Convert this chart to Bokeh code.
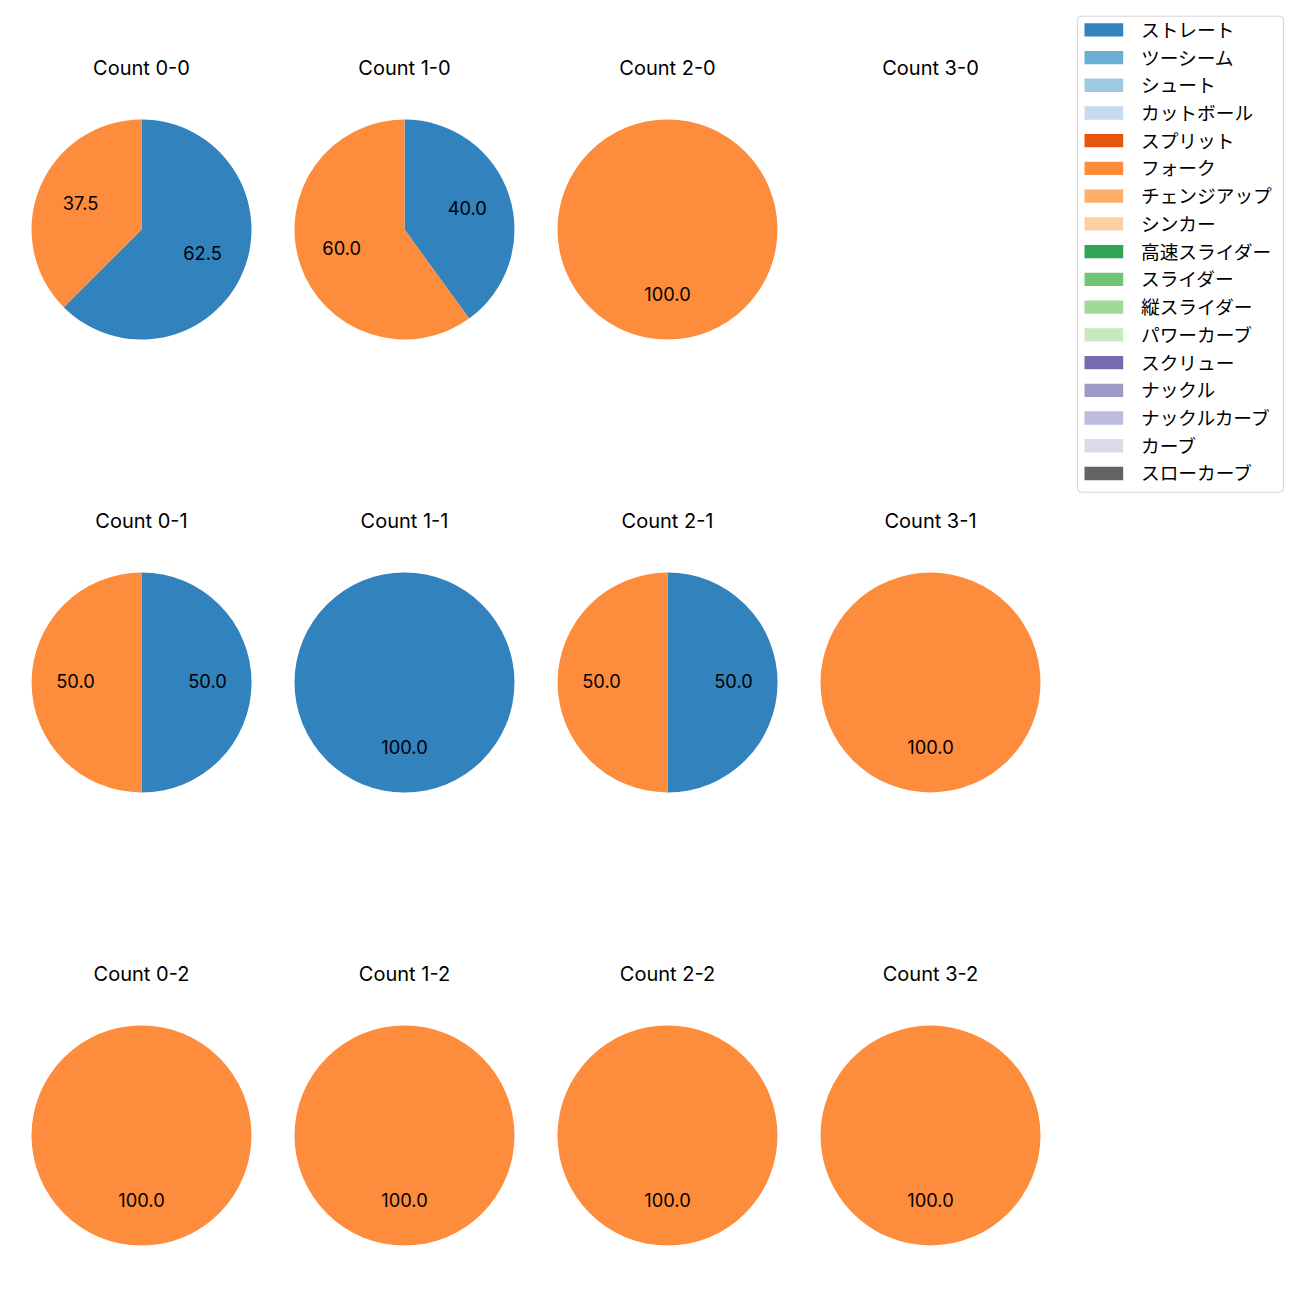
import math
from bokeh.plotting import figure
from bokeh.models import Range1d, ColumnDataSource
from bokeh.core.properties import value
from bokeh.embed import file_html
from bokeh.resources import INLINE

# ---------------- data ----------------
pitch_types = ["ストレート", "ツーシーム", "シュート", "カットボール", "スプリット", "フォーク",
               "チェンジアップ", "シンカー", "高速スライダー", "スライダー", "縦スライダー",
               "パワーカーブ", "スクリュー", "ナックル", "ナックルカーブ", "カーブ", "スローカーブ"]
pitch_colors = ["#3182bd", "#6baed6", "#9ecae1", "#c6dbef", "#e6550d", "#fd8d3c", "#fdae6b",
                "#fdd0a2", "#31a354", "#74c476", "#a1d99b", "#c7e9c0", "#756bb1", "#9e9ac8",
                "#bcbddc", "#dadaeb", "#636363"]

count_balls = [0, 1, 2, 3, 0, 1, 2, 3, 0, 1, 2, 3]
count_strikes = [0, 0, 0, 0, 1, 1, 1, 1, 2, 2, 2, 2]
straight_n = [5, 2, 0, 0, 1, 1, 1, 0, 0, 0, 0, 0]
fork_n = [3, 3, 1, 0, 1, 0, 1, 1, 1, 1, 1, 1]

# ---------------- layout ----------------
W, H = 1300, 1300
JP_FONT = "Noto Sans CJK JP"
LAT_FONT = "Inter"
R = 110
col_x0, col_dx = 141, 263
row_y0, row_dy = H - 229, 453
title_off = 161.5

p = figure(width=W, height=H, output_backend="svg", toolbar_location=None,
           x_range=Range1d(0, W), y_range=Range1d(0, H),
           x_axis_type=None, y_axis_type=None, min_border=0,
           outline_line_color=None)
p.grid.visible = False
p.background_fill_color = "white"

series = {"ストレート": straight_n, "フォーク": fork_n}

wx, wy, ws, we, wc = [], [], [], [], []
cx_full, cy_full, c_full = [], [], []
lx, ly, lt = [], [], []
tx, ty, tt = [], [], []
for i, (b, s) in enumerate(zip(count_balls, count_strikes)):
    cx = col_x0 + b * col_dx
    cy = row_y0 - s * row_dy
    tx.append(cx)
    ty.append(cy + title_off)
    tt.append(f"Count {b}-{s}")
    vals = [(name, series[name][i]) for name in pitch_types if name in series and series[name][i] > 0]
    total = sum(v for _, v in vals)
    if total == 0:
        continue
    start = math.pi / 2
    for name, v in vals:
        frac = v / total
        sweep = frac * 2 * math.pi
        col = pitch_colors[pitch_types.index(name)]
        if frac >= 0.9999:
            cx_full.append(cx); cy_full.append(cy); c_full.append(col)
        else:
            wx.append(cx); wy.append(cy); ws.append(start); we.append(start - sweep); wc.append(col)
        mid = start - sweep / 2
        lx.append(cx + 0.6 * R * math.cos(mid))
        ly.append(cy + 0.6 * R * math.sin(mid))
        lt.append(f"{frac * 100:.1f}")
        start -= sweep

p.wedge(x="x", y="y", radius=R, start_angle="s", end_angle="e", direction="clock",
        fill_color="c", line_color=None,
        source=ColumnDataSource(dict(x=wx, y=wy, s=ws, e=we, c=wc)))
p.circle(x="x", y="y", radius=R, fill_color="c", line_color=None,
         source=ColumnDataSource(dict(x=cx_full, y=cy_full, c=c_full)))
p.text(x="x", y="y", text="t", text_align="center", text_baseline="middle",
       text_font=value(LAT_FONT), text_font_size="18.3px", text_color="black",
       y_offset=-1.5,
       source=ColumnDataSource(dict(x=lx, y=ly, t=lt)))
p.text(x="x", y="y", text="t", text_align="center", text_baseline="middle",
       text_font=value(LAT_FONT), text_font_size="20px", text_color="black",
       source=ColumnDataSource(dict(x=tx, y=ty, t=tt)))

# ---------------- legend ----------------
lg_left, lg_right, lg_top, lg_bottom = 1077, 1283, H - 15.7, H - 491.7
p.quad(left=[lg_left], right=[lg_right], top=[lg_top], bottom=[lg_bottom],
       fill_color="white", fill_alpha=0.8, line_color="#d5d5d5", line_width=1,
       border_radius=4)
row0, row_step = H - 29.3, 27.73
ky = [row0 - k * row_step for k in range(len(pitch_types))]
p.quad(left=[1084] * len(ky), right=[1122.7] * len(ky),
       top=[y + 6.65 for y in ky], bottom=[y - 6.65 for y in ky],
       fill_color=pitch_colors, line_color=None)
p.text(x=[1140.5] * len(ky), y=ky, text=pitch_types, text_align="left",
       text_baseline="middle", text_font=value(JP_FONT), text_font_size="18.7px",
       text_color="black", y_offset=-1.5)

open("out.html", "w").write(file_html(p, INLINE))
